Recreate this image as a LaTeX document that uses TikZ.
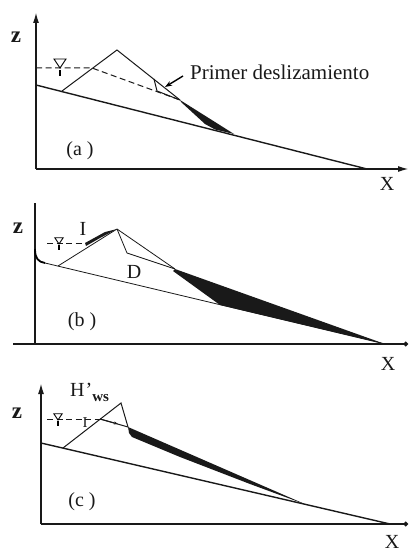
\documentclass[tikz,border=0pt]{standalone}
\usepackage{fontspec}
\setmainfont{Liberation Serif}
\usetikzlibrary{arrows.meta}
\begin{document}
\begin{tikzpicture}[x=1pt,y=-1pt,
  axis/.style={line width=1.7pt, draw=black!90},
  axisarrow/.style={axis, -{Latex[length=11pt,width=6pt]}},
  axisdot/.style={axis, -{Circle[length=4.5pt]}},
  bedline/.style={line width=1.4pt, draw=black!90},
  damline/.style={line width=1pt, draw=black!90},
  water/.style={line width=1pt, draw=black!90, dash pattern=on 6pt off 3.5pt},
  lab/.style={font=\fontsize{20}{20}\selectfont, inner sep=0pt, text=black!90},
  zlab/.style={lab, font=\fontsize{23}{23}\selectfont\bfseries},
  wl/.pic={
    \draw[line width=0.9pt] (-6,-9) -- (6,-9) -- (0,0) -- cycle;
    \draw[line width=1.1pt] (0,2) -- (0,8);
  }
]
\useasboundingbox (0,0) rectangle (410,553);

% ---------------- (a) first slide ----------------
\coordinate (aO) at (36,169);
\coordinate (aZ) at (36,12);
\coordinate (aX) at (409,169);
\coordinate (aB0) at (36,85);
\coordinate (aB1) at (367,169);
\coordinate (aToe) at (62,91);
\coordinate (aCrest) at (117,50);
\coordinate (aFace) at (180,100);
\coordinate (aSlip) at (154,79);
\coordinate (aSlipB) at (157,91);
\coordinate (aW0) at (36,68);
\coordinate (aW1) at (92,68);
\coordinate (aTip) at (234,134);

\draw[axisarrow] (aO) -- (aZ);
\draw[axisarrow] (aO) -- (aX);
\draw[bedline] (aB0) -- (aB1);
\draw[damline] (aToe) -- (aCrest) -- (aFace);
\draw[damline] (aSlip) -- (aSlipB) -- (aFace);
\draw[water] (aW0) -- (aW1) -- (aFace);
\fill[black!90] (aFace) -- (215,122) -- (aTip) -- (215,129.5) -- (205,124) -- (181,102) -- cycle;
\pic at (60,68) {wl};

\node[lab, anchor=base west] (aTxt) at (190,80) {\fontsize{21}{21}\selectfont Primer deslizamiento};
\coordinate (aArr) at (165,87);
\draw[line width=1.4pt, -{Stealth[length=7pt,width=5pt]}] (183,76) -- (aArr);

\node[zlab] (az) at (16,37) {z};
\node[lab] (aXl) at (387,184) {X};
\node[lab] (alab) at (80,151) {(a )};

% ---------------- (b) after breaching ----------------
\coordinate (bO) at (35,344);
\coordinate (bZ) at (35,203);
\coordinate (bXl) at (13,344);
\coordinate (bX) at (408,344);
\coordinate (bB0) at (45,263);
\coordinate (bB1) at (385,344);
\coordinate (bToe) at (58,266);
\coordinate (bCrest) at (117,229);
\coordinate (bKnee) at (127,253);
\coordinate (bJoin) at (175,269);
\coordinate (bBed) at (220,305);
\coordinate (bW0) at (47,243);
\coordinate (bW1) at (85,243);

\draw[axis, line width=2.2pt] (bO) -- (bZ);
\draw[axisdot] (bXl) -- (bX);
\draw[line width=1.8pt] (35,249) .. controls (35,258) and (38,262) .. (bB0);
\draw[damline, line width=0.8pt] (bB0) -- (bB1);
\draw[damline, line width=0.8pt] (bToe) -- (bCrest) -- (bJoin);
\draw[damline, line width=0.8pt] (bCrest) -- (bKnee) -- (bJoin);
\fill[black!90] (bW1) -- (105,232) -- (bCrest) -- (100,238) -- (86,246) -- cycle;
\fill[black!90] (bJoin) -- (bB1) -- (bBed) -- (173,271) -- cycle;
\draw[water] (bW0) -- (bW1);
\pic[scale=0.7] at (59,244) {wl};

\node[lab] (bI) at (83,229) {I};
\node[lab] (bD) at (134,272) {D};
\node[zlab] (bz) at (18,228) {z};
\node[lab] (bXt) at (388,364) {X};
\node[lab] (blab) at (82,322) {(b )};

% ---------------- (c) final profile ----------------
\coordinate (cO) at (41,524);
\coordinate (cZ) at (41,383);
\coordinate (cX) at (408,524);
\coordinate (cB0) at (41,443);
\coordinate (cB1) at (390,524);
\coordinate (cToe) at (63,448);
\coordinate (cCrest) at (121,403);
\coordinate (cFoot) at (128,427);
\coordinate (cMeet) at (100,419);
\coordinate (cW0) at (47,419);
\coordinate (cEnd) at (307,505);

\draw[axisarrow] (cO) -- (cZ);
\draw[axisdot] (cO) -- (cX);
\draw[bedline] (cB0) -- (cB1);
\draw[damline] (cToe) -- (cCrest) -- (cFoot);
\draw[damline] (cMeet) -- (cFoot);
\draw[damline, -{Stealth[length=4pt,width=3pt]}] (cMeet) -- (118,424);
\fill[black!90] (cFoot) -- (cEnd) -- (250,484) -- (180,457) -- (132,437) -- (129,433) -- cycle;
\draw[water] (cW0) -- (cMeet);
\pic[scale=0.7] at (58,420) {wl};

\node[lab, font=\fontsize{15}{15}\selectfont] (cI) at (85,423) {I};
\node[lab, anchor=base west] (cH) at (70,396) {H\kern1pt'\raisebox{-5pt}{\fontsize{15}{15}\selectfont\bfseries ws}};
\node[zlab] (cz) at (17,413) {z};
\node[lab] (cXt) at (392,542) {X};
\node[lab] (clab) at (82,502) {(c )};

\end{tikzpicture}
\end{document}
